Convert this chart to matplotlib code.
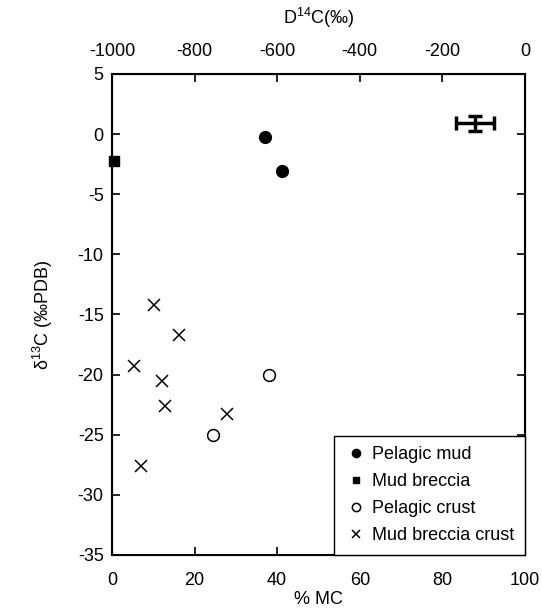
import matplotlib.pyplot as plt

plt.rcParams['font.family'] = ['Liberation Sans', 'DejaVu Sans']
plt.rcParams['font.size'] = 13
plt.rcParams['axes.unicode_minus'] = False
plt.rcParams['mathtext.default'] = 'regular'

# data (% MC, d13C)
pel_mud_x = [37.0, 41.2]
pel_mud_y = [-0.2, -3.1]
mud_brec_x = [0.5]
mud_brec_y = [-2.2]
pel_crust_x = [38.0, 24.5]
pel_crust_y = [-20.0, -25.0]
mb_crust_x = [10.2, 16.2, 5.4, 12.2, 12.8, 27.9, 7.0]
mb_crust_y = [-14.2, -16.7, -19.25, -20.5, -22.6, -23.3, -27.6]

# typical error bar
err_x, err_y = 87.9, 0.9
err_dx, err_dy = 4.6, 0.6

fig = plt.figure(figsize=(5.42, 6.09), dpi=100)
ax = fig.add_axes([0.2066, 0.0887, 0.762, 0.7898])

ax.plot(pel_mud_x, pel_mud_y, 'o', color='black', ms=8.5, label='Pelagic mud', clip_on=False)
ax.plot(mud_brec_x, mud_brec_y, 's', color='black', ms=7, label='Mud breccia', clip_on=False)
ax.plot(pel_crust_x, pel_crust_y, 'o', mfc='white', mec='black', mew=1.1, ms=8.5, label='Pelagic crust')
ax.plot(mb_crust_x, mb_crust_y, 'x', color='black', mew=1.1, ms=9, label='Mud breccia crust')

ax.errorbar(err_x, err_y, xerr=err_dx, yerr=err_dy, fmt='none', ecolor='black',
            elinewidth=2.5, capsize=5, capthick=2.5)

ax.set_xlim(0, 100)
ax.set_ylim(-35, 5)
ax.set_xticks([0, 20, 40, 60, 80, 100])
ax.set_yticks(range(-35, 6, 5))
ax.tick_params(direction='in', length=6, width=1.2, right=True, pad=6)
ax.tick_params(axis='x', pad=12)
for s in ax.spines.values():
    s.set_linewidth(1.5)
ax.set_xlabel('% MC', labelpad=2)
ax.set_ylabel('δ$^{13}$C (‰PDB)', labelpad=16)

ax2 = ax.twiny()
ax2.set_xlim(-1000, 0)
ax2.set_xticks([-1000, -800, -600, -400, -200, 0])
ax2.tick_params(direction='in', length=6, width=1.2, pad=10)
ax2.set_xlabel('D$^{14}$C(‰)', labelpad=14)

leg = ax.legend(loc='lower right', borderaxespad=0, fancybox=False, framealpha=1,
                edgecolor='black', markerscale=0.7, handletextpad=0.3, labelspacing=0.55,
                handlelength=1.2, borderpad=0.6, fontsize=13)
leg.get_frame().set_linewidth(1.0)

fig.savefig('out.png', dpi=100)
